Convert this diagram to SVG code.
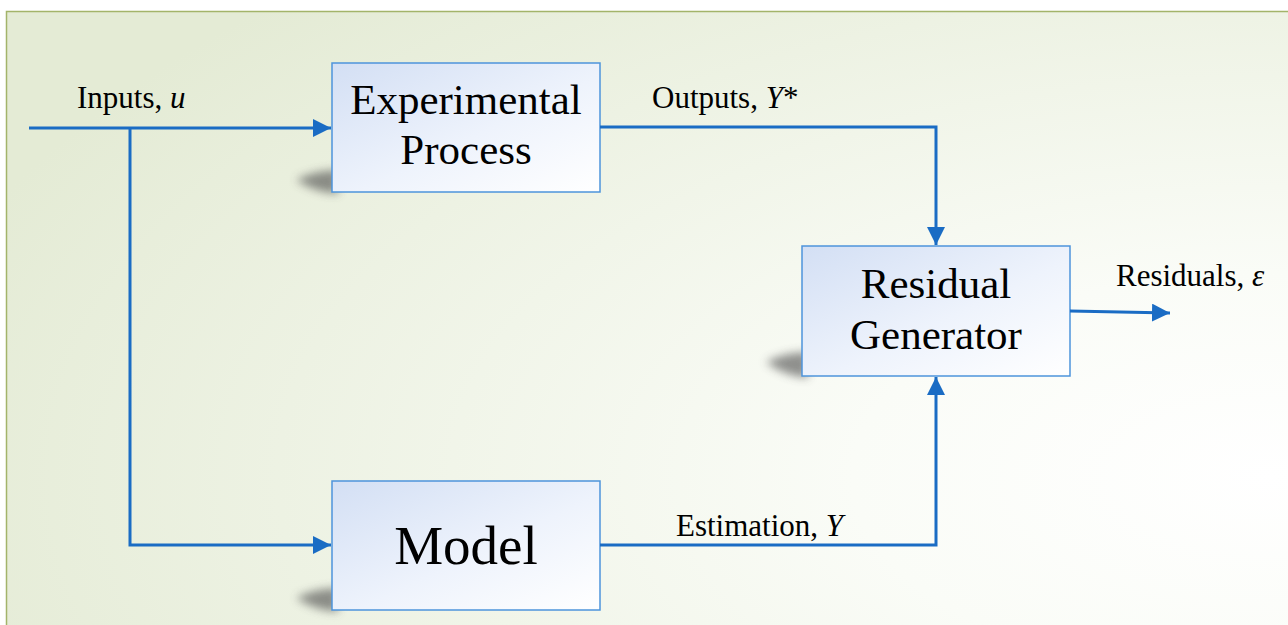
<svg xmlns="http://www.w3.org/2000/svg" width="1288" height="625" viewBox="0 0 1288 625">
<defs>
<radialGradient id="bg" cx="1" cy="0.75" r="1.1" fx="0.98" fy="0.75">
<stop offset="0" stop-color="#ffffff"/>
<stop offset="0.3" stop-color="#fafcf7"/>
<stop offset="1" stop-color="#e4ebd5"/>
</radialGradient>
<linearGradient id="box" x1="0" y1="0" x2="1" y2="1">
<stop offset="0" stop-color="#d3dff4"/>
<stop offset="0.55" stop-color="#eef3fc"/>
<stop offset="1" stop-color="#ffffff"/>
</linearGradient>
<filter id="blur" x="-50%" y="-50%" width="200%" height="200%">
<feGaussianBlur stdDeviation="5"/>
</filter>
<marker id="arr" viewBox="0 0 10 10" refX="10" refY="5" markerWidth="18" markerHeight="18" markerUnits="userSpaceOnUse" orient="auto">
<path d="M0,0 L10,5 L0,10 z" fill="#1a6cc4"/>
</marker>
</defs>
<style>
.node rect.b{fill:url(#box);stroke:#4d94db;stroke-width:1.5}
.sh{fill:#4a4a4a;opacity:0.6;filter:url(#blur)}
.t{font-family:"Liberation Serif","Times New Roman",serif;fill:#000;text-anchor:middle}
.lbl{font-family:"Liberation Serif","Times New Roman",serif;fill:#000;font-size:31px}
.c{fill:none;stroke:#1a6cc4;stroke-width:3}
</style>
<rect x="6.5" y="11.5" width="1290" height="620" fill="url(#bg)" stroke="#a3b46a" stroke-width="1.5"/>
<g id="experimental-process" class="node">
<path class="sh" d="M296,180 Q316,170 338,170 L338,194 Q314,192 296,180 z"/>
<rect class="b" x="332" y="63" width="268" height="129"/>
<text class="t" x="466" y="114" font-size="43">Experimental</text>
<text class="t" x="466" y="164" font-size="43">Process</text>
</g>
<g id="residual-generator" class="node">
<path class="sh" d="M766,362 Q786,352 808,352 L808,378 Q784,376 766,362 z"/>
<rect class="b" x="802" y="246" width="268" height="130"/>
<text class="t" x="936" y="298" font-size="43">Residual</text>
<text class="t" x="936" y="349" font-size="43">Generator</text>
</g>
<g id="model" class="node">
<path class="sh" d="M296,598 Q316,588 338,588 L338,612 Q314,610 296,598 z"/>
<rect class="b" x="332" y="481" width="268" height="129"/>
<text class="t" x="466" y="564" font-size="55">Model</text>
</g>
<g id="connectors">
<path class="c" d="M29,128 L331,128" marker-end="url(#arr)"/>
<path class="c" d="M130,128 L130,545 L331,545" marker-end="url(#arr)"/>
<path class="c" d="M600,127 L936,127 L936,245" marker-end="url(#arr)"/>
<path class="c" d="M600,545 L936,545 L936,377" marker-end="url(#arr)"/>
<path class="c" d="M1070,311 L1170,313" marker-end="url(#arr)"/>
</g>
<g id="labels">
<text class="lbl" x="77" y="108">Inputs, <tspan font-style="italic">u</tspan></text>
<text class="lbl" x="652" y="108" font-size="30">Outputs, <tspan font-style="italic">Y</tspan>*</text>
<text class="lbl" x="1116" y="286">Residuals, <tspan font-style="italic">ε</tspan></text>
<text class="lbl" x="676" y="536" font-size="32">Estimation, <tspan font-style="italic">Y</tspan></text>
</g>
</svg>
